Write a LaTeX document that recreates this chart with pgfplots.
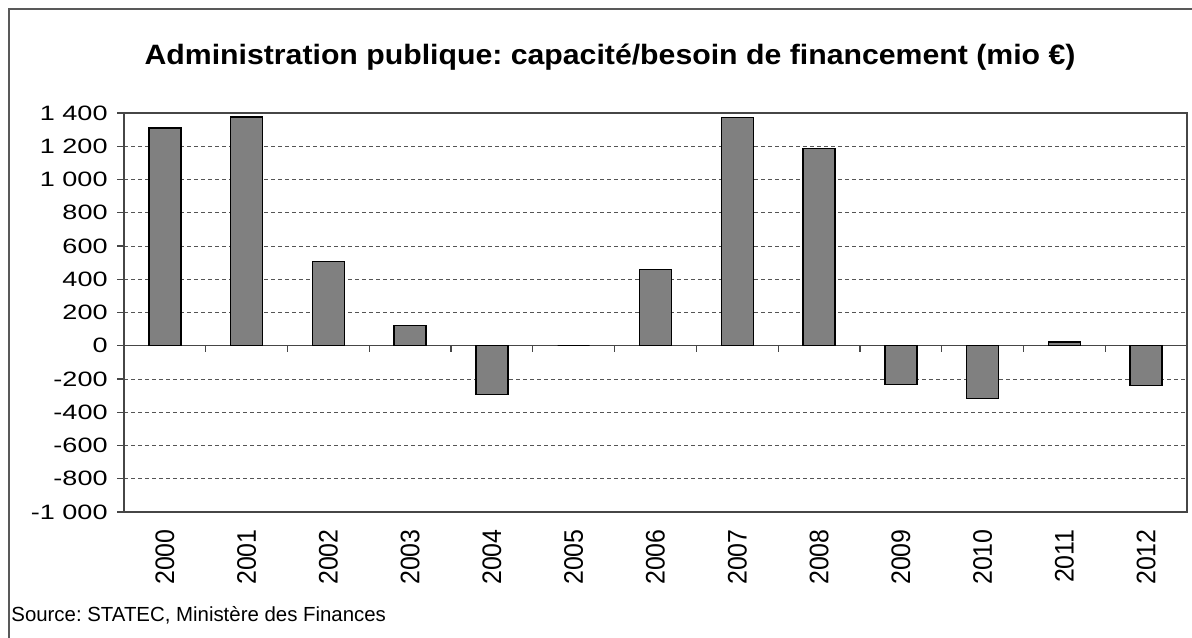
\documentclass[border=0pt]{standalone}
\usepackage{fontspec}
\setmainfont{Liberation Sans}
\newfontfamily\titlefont[FakeStretch=1.08]{Liberation Sans}
\newfontfamily\tickfont[FakeStretch=1.3]{Liberation Sans}
\newfontfamily\yearfont[FakeStretch=0.93]{Liberation Sans}
\usepackage{pgfplots}
\pgfplotsset{compat=1.18}
\frenchspacing
\definecolor{barfill}{RGB}{128,128,128}
\definecolor{gridc}{RGB}{85,85,85}
\definecolor{axisc}{RGB}{70,70,70}
\pgfplotstableread{
x val
0 1310
1 1377
2 506
3 122
4 -294
5 0
6 460
7 1373
8 1187
9 -232
10 -318
11 22
12 -240
}\datatable
\begin{document}
\begin{tikzpicture}
\useasboundingbox (0pt,0pt) rectangle (596pt,318.5pt);
\fill[white] (0pt,0pt) rectangle (596pt,318.5pt);
\draw[gray!70!black, line width=0.8pt] (4.5pt,-2pt) -- (4.5pt,314pt) -- (598pt,314pt);
\node[anchor=base, font={\titlefont\fontsize{14}{16}\selectfont\bfseries}] at (305pt,286pt)
  {Administration publique: capacité/besoin de financement (mio €)};
\node[anchor=base west, inner sep=0pt, font={\fontsize{10.2}{12}\selectfont}] at (5.5pt,8pt)
  {Source: STATEC, Ministère des Finances};
\begin{axis}[
  at={(62pt,62.5pt)}, anchor=south west,
  scale only axis, width=531.5pt, height=199.5pt,
  xmin=-0.5, xmax=12.5, ymin=-1000, ymax=1400,
  ytick={-1000,-800,...,1400},
  yticklabels={-1~000,-800,-600,-400,-200,0,200,400,600,800,1~000,1~200,1~400},
  xtick={0,...,12},
  xticklabels={2000,2001,2002,2003,2004,2005,2006,2007,2008,2009,2010,2011,2012},
  xticklabel style={font={\yearfont\fontsize{13.4}{14}\selectfont}, rotate=90, anchor=east, inner sep=0pt},
  xticklabel shift=5pt,
  yticklabel style={font={\tickfont\fontsize{10.4}{12}\selectfont}, anchor=east, inner sep=0pt},
  yticklabel shift=4.5pt,
  tick align=outside,
  x tick style={draw=none},
  y tick style={axisc, line width=0.6pt},
  major tick length=3.5pt,
  ymajorgrids,
  major grid style={gridc, line width=0.5pt, dash pattern=on 2pt off 1.5pt},
  axis line style={axisc, line width=0.8pt},
  tick pos=left,
]
\draw[axisc, line width=0.7pt] (axis cs:-0.5,0) -- (axis cs:12.5,0);
\pgfplotsinvokeforeach{0.5,1.5,...,11.5}{
  \draw[axisc, line width=0.6pt] (axis cs:#1,0) -- ([yshift=-3pt]axis cs:#1,0);
}
\addplot[ybar, bar width=16pt, fill=barfill, draw=black, line width=0.7pt] table[x=x, y=val] {\datatable};
\end{axis}
\end{tikzpicture}
\end{document}
